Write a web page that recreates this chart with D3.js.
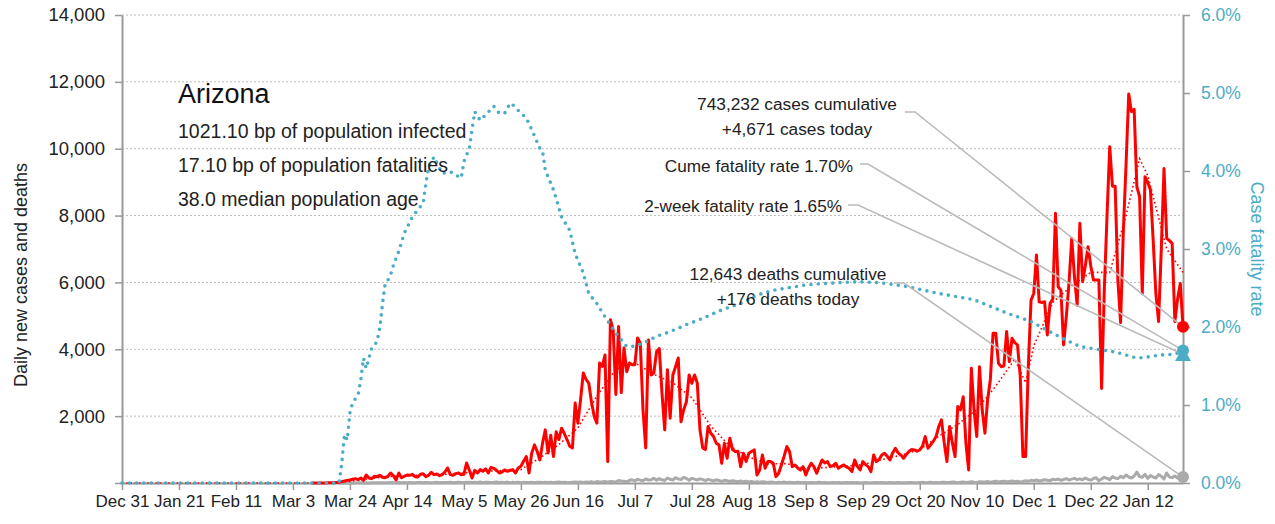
<!DOCTYPE html>
<html>
<head>
<meta charset="utf-8">
<script src="https://cdn.jsdelivr.net/npm/d3@7"></script>
<style>
  body { margin: 0; background: #fff; }
  text { font-family: "Liberation Sans", Arial, sans-serif; }
</style>
</head>
<body>
<svg id="chart" width="1275" height="524"></svg>
<script>
// ---- data ----
const axisStart = "2019-12-31";
const axisEnd = "2021-01-25";

const xTickDates = ["2019-12-31","2020-01-21","2020-02-11","2020-03-03","2020-03-24","2020-04-14",
  "2020-05-05","2020-05-26","2020-06-16","2020-07-07","2020-07-28","2020-08-18","2020-09-08",
  "2020-09-29","2020-10-20","2020-11-10","2020-12-01","2020-12-22","2021-01-12"];
const leftTicks = [0, 2000, 4000, 6000, 8000, 10000, 12000, 14000];
const rightTicks = [0, 0.01, 0.02, 0.03, 0.04, 0.05, 0.06];

// daily new cases, one value per day from casesStart
const casesStart = "2020-03-10";
const dailyCases = [
  1,3,0,3,2,1,6,
  8,9,16,20,40,58,80,
  90,110,130,100,150,80,240,
  150,130,200,190,230,170,160,
  200,300,220,90,300,160,200,
  240,230,260,190,180,260,280,
  190,230,320,250,270,220,250,
  330,450,250,230,280,300,250,
  260,600,380,150,380,300,400,
  350,420,300,470,440,380,300,
  330,390,350,380,400,300,450,
  500,650,790,300,900,1140,950,
  690,1200,1590,900,1430,790,1530,
  1300,1640,1480,1300,1100,1050,2390,
  1790,2500,3290,3100,2990,2430,2000,
  1790,3590,3490,3830,640,4880,4580,
  2650,4680,2700,4040,3330,3590,3540,
  3540,4340,4180,2190,1050,4280,3230,
  3290,3930,4020,2690,1590,3390,1940,
  3230,3480,3740,1830,2190,2430,3230,
  2980,3230,2990,1590,1050,1000,1690,
  1490,1390,1190,1140,590,1190,740,
  1340,1000,940,940,490,890,640,
  890,940,990,240,390,840,440,
  640,640,590,190,290,540,800,
  1090,940,490,540,450,390,490,
  240,450,590,490,290,500,690,
  600,640,490,520,590,440,500,
  540,480,440,340,690,500,390,
  640,550,490,340,840,640,700,
  840,890,800,690,900,1040,900,
  840,740,850,940,1000,990,950,
  990,1100,1390,1040,1140,1250,1390,
  1690,1890,1200,640,1690,1200,790,
  2290,2190,2580,1190,390,3430,2190,
  1390,3480,2190,1490,2500,3090,4480,
  4480,3580,3480,3500,4530,3630,4330,
  4200,4130,3230,790,790,3500,5470,
  5670,6820,5420,5400,5420,4430,5370,
  5500,8070,5870,5770,4130,4980,6000,
  7320,6170,5320,7770,6020,6500,7070,
  6500,6070,6070,6070,2830,5770,8000,
  10060,8880,8880,6070,4800,7500,9500,
  11640,11110,11180,8860,8570,5670,9160,
  9000,8770,7270,5670,4830,7000,9410,
  7320,7250,7170,4830,5500,5970,4671
];

// daily deaths, one value per day from deathsStart
const deathsStart = "2020-03-20";
const dailyDeaths = [
  0,1,0,2,1,3,2,
  5,4,3,7,2,6,5,
  8,4,11,7,5,13,10,
  7,12,9,15,6,14,11,
  9,16,13,8,18,12,10,
  14,20,9,15,12,17,22,
  10,18,24,12,15,20,26,
  14,22,17,28,12,19,25,
  16,21,30,13,24,18,27,
  11,20,15,25,9,22,17,
  14,23,10,19,26,12,20,
  17,24,9,21,30,15,26,
  18,11,25,32,20,27,16,
  30,24,38,19,42,28,35,
  44,22,48,40,30,75,60,
  50,35,80,95,65,110,85,
  70,120,90,100,140,85,130,
  95,75,150,110,90,160,120,
  100,170,135,80,140,115,90,
  125,100,70,110,85,60,95,
  75,50,80,65,45,70,55,
  40,60,35,50,30,45,25,
  40,20,35,30,15,28,22,
  10,25,18,30,12,20,15,
  8,22,14,5,18,10,16,
  6,12,20,9,15,4,11,
  14,7,18,10,5,13,9,
  16,6,12,3,10,14,8,
  5,11,15,7,12,4,10,
  13,6,9,16,8,11,5,
  12,18,7,10,15,20,9,
  14,22,11,17,8,19,25,
  12,16,28,20,10,24,30,
  15,26,35,22,18,40,28,
  33,45,25,38,50,30,42,
  55,35,48,60,40,52,30,
  45,70,55,80,65,90,60,
  75,100,85,70,110,95,120,
  80,105,130,90,115,140,100,
  125,95,150,110,85,135,160,
  70,120,170,140,100,190,150,
  130,200,160,240,180,150,210,
  330,190,170,260,140,220,180,
  150,250,200,120,300,180,160,
  210,150,190,176
];

// 7-day average of cases (dotted red)
const avgDates = ["2019-12-31","2020-03-10","2020-03-17","2020-03-24","2020-03-31","2020-04-07",
  "2020-04-14","2020-04-21","2020-04-28","2020-05-05","2020-05-12","2020-05-19","2020-05-26",
  "2020-06-02","2020-06-09","2020-06-16","2020-06-23","2020-06-30","2020-07-07","2020-07-14",
  "2020-07-21","2020-07-28","2020-08-04","2020-08-11","2020-08-18","2020-08-25","2020-09-01",
  "2020-09-08","2020-09-15","2020-09-22","2020-09-29","2020-10-06","2020-10-13","2020-10-20",
  "2020-10-27","2020-11-03","2020-11-10","2020-11-17","2020-11-24","2020-11-28","2020-12-01",
  "2020-12-08","2020-12-15","2020-12-22","2020-12-29","2021-01-04","2021-01-09","2021-01-12",
  "2021-01-19","2021-01-25"];
const avgCases = [0,0,10,50,130,190,
  220,240,260,300,350,370,400,
  750,1150,1650,2600,3400,3600,3250,
  3000,2550,1700,1100,780,570,580,
  420,460,500,550,700,830,1000,
  1400,1750,2200,2900,3700,3000,4100,
  5400,5900,6300,6300,8000,9700,9200,
  7000,6300];

// case fatality rate, percent (dotted blue, right axis)
const cfrDates = ["2019-12-31","2020-03-20","2020-03-21","2020-03-22","2020-03-23","2020-03-24",
  "2020-03-25","2020-03-27","2020-03-28","2020-03-29","2020-03-30","2020-03-31","2020-04-01",
  "2020-04-03","2020-04-04","2020-04-05","2020-04-06","2020-04-07","2020-04-08","2020-04-09",
  "2020-04-11","2020-04-13","2020-04-16","2020-04-20","2020-04-21","2020-04-22","2020-04-24",
  "2020-04-27","2020-04-30","2020-05-04","2020-05-05","2020-05-07","2020-05-08","2020-05-09",
  "2020-05-11","2020-05-13","2020-05-16","2020-05-18","2020-05-20","2020-05-22","2020-05-23",
  "2020-05-26","2020-05-28","2020-05-30","2020-06-02","2020-06-03","2020-06-04","2020-06-07",
  "2020-06-10","2020-06-13","2020-06-15","2020-06-18","2020-06-20","2020-06-23","2020-06-26",
  "2020-06-30","2020-07-04","2020-07-06","2020-07-10","2020-07-15","2020-07-20","2020-07-26",
  "2020-08-01","2020-08-08","2020-08-15","2020-08-21","2020-08-27","2020-09-08","2020-09-21",
  "2020-09-27","2020-10-05","2020-10-15","2020-10-27","2020-11-09","2020-11-21","2020-11-30",
  "2020-12-08","2020-12-13","2020-12-18","2020-12-25","2020-12-31","2021-01-08","2021-01-13",
  "2021-01-16","2021-01-22","2021-01-25"];
const cfrPct = [0,0,0.26,0.62,0.55,0.9,
  1.03,1.13,1.32,1.6,1.47,1.6,1.73,
  1.81,1.99,2.3,2.56,2.6,2.67,2.79,
  2.97,3.2,3.41,3.59,3.84,4.05,4.18,
  3.97,3.99,3.91,4.12,4.29,4.53,4.76,
  4.65,4.72,4.83,4.74,4.74,4.87,4.85,
  4.74,4.68,4.53,4.29,4.25,4.01,3.76,
  3.41,3.24,2.94,2.69,2.43,2.30,2.13,
  1.92,1.75,1.75,1.79,1.88,1.94,2.03,
  2.11,2.22,2.30,2.41,2.47,2.54,2.57,
  2.58,2.57,2.52,2.43,2.35,2.18,2.07,
  1.92,1.83,1.75,1.71,1.68,1.60,1.62,
  1.64,1.65,1.70];

const stateName = "Arizona";
const infoLines = ["1021.10 bp of population infected", "17.10 bp of population fatalities", "38.0 median population age"];
const casesNote = ["743,232 cases cumulative", "+4,671 cases today"];
const deathsNote = ["12,643 deaths cumulative", "+176 deaths today"];
const cumeNote = "Cume fatality rate 1.70%";
const twoWeekNote = "2-week fatality rate 1.65%";
const todayCases = 4671, todayDeaths = 176, cumeRate = 0.017, twoWeekRate = 0.0165;

// ---- chart ----
const svg = d3.select("#chart");
const plotLeft = 122, plotRight = 1183, plotTop = 15, plotBottom = 483;
const parse = d3.timeParse("%Y-%m-%d");
const red = "#ff0000", blue = "#4bacc6", gray = "#aaaaaa", axisGray = "#999999";

const x = d3.scaleTime().domain([parse(axisStart), parse(axisEnd)]).range([plotLeft, plotRight]);
const yL = d3.scaleLinear().domain([0, 14000]).range([plotBottom, plotTop]);
const yR = d3.scaleLinear().domain([0, 0.06]).range([plotBottom, plotTop]);

const cases = dailyCases.map((v, i) => ({ date: d3.timeDay.offset(parse(casesStart), i), v }));
const deaths = dailyDeaths.map((v, i) => ({ date: d3.timeDay.offset(parse(deathsStart), i), v }));
const avg = avgDates.map((d, i) => ({ date: parse(d), v: avgCases[i] }));
const cfr = cfrDates.map((d, i) => ({ date: parse(d), v: cfrPct[i] / 100 }));

// gridlines
svg.append("g").selectAll("line")
  .data(leftTicks.filter(d => d > 0))
  .join("line")
  .attr("x1", plotLeft).attr("x2", plotRight)
  .attr("y1", d => yL(d)).attr("y2", d => yL(d))
  .attr("stroke", "#bbbbbb").attr("stroke-width", 1).attr("stroke-dasharray", "2,2");

// axes
const styleAxis = g => {
  g.select(".domain").attr("stroke", axisGray).attr("stroke-width", 2);
  g.selectAll(".tick line").attr("stroke", axisGray).attr("stroke-width", 1.5);
};

svg.append("g")
  .attr("transform", `translate(${plotLeft},0)`)
  .call(d3.axisLeft(yL).tickValues(leftTicks).tickFormat(d => d ? d3.format(",")(d) : "")
    .tickSize(7).tickSizeOuter(0).tickPadding(10))
  .call(styleAxis)
  .call(g => g.selectAll("text").attr("font-size", 18.5).attr("fill", "#222"));

svg.append("g")
  .attr("transform", `translate(${plotRight},0)`)
  .call(d3.axisRight(yR).tickValues(rightTicks).tickFormat(d3.format(".1%"))
    .tickSize(7).tickSizeOuter(0).tickPadding(11))
  .call(styleAxis)
  .call(g => g.selectAll("text").attr("font-size", 17.5).attr("fill", blue));

svg.append("g")
  .attr("transform", `translate(0,${plotBottom})`)
  .call(d3.axisBottom(x).tickValues(xTickDates.map(parse)).tickFormat(d3.timeFormat("%b %-d"))
    .tickSize(7).tickSizeOuter(0).tickPadding(5))
  .call(styleAxis)
  .call(g => g.selectAll("text").attr("font-size", 17).attr("fill", "#222"));

// axis titles
svg.append("text")
  .attr("transform", `translate(27,${(plotTop + plotBottom) / 2 + 26}) rotate(-90)`)
  .attr("text-anchor", "middle").attr("font-size", 18).attr("fill", "#222")
  .text("Daily new cases and deaths");

svg.append("text")
  .attr("transform", `translate(1251,${(plotTop + plotBottom) / 2}) rotate(90)`)
  .attr("text-anchor", "middle").attr("font-size", 18).attr("fill", blue)
  .text("Case fatality rate");

// series
const lineL = d3.line().x(d => x(d.date)).y(d => yL(d.v));
const lineR = d3.line().x(d => x(d.date)).y(d => yR(d.v));

svg.append("path").datum(deaths).attr("d", lineL)
  .attr("fill", "none").attr("stroke", gray).attr("stroke-width", 3).attr("stroke-linejoin", "round");

svg.append("path").datum(cases).attr("d", lineL)
  .attr("fill", "none").attr("stroke", red).attr("stroke-width", 3).attr("stroke-linejoin", "round");

svg.append("path").datum(avg).attr("d", lineL)
  .attr("fill", "none").attr("stroke", red).attr("stroke-width", 1.6).attr("stroke-dasharray", "1.6,2.6");

svg.append("path").datum(cfr).attr("d", lineR)
  .attr("fill", "none").attr("stroke", blue).attr("stroke-width", 3.6)
  .attr("stroke-linecap", "round").attr("stroke-dasharray", "0,7.3");

// connectors from notes to the end markers
const endX = x(parse(axisEnd));
const connectors = [
  [[905, 112], [915, 112], [endX, yL(todayCases)]],
  [[860, 164], [868, 164], [endX, yR(cumeRate)]],
  [[848, 205], [858, 205], [endX, yR(twoWeekRate)]],
  [[894, 283], [904, 283], [endX, yL(todayDeaths)]]
];
svg.append("g").selectAll("path").data(connectors).join("path")
  .attr("d", d3.line())
  .attr("fill", "none").attr("stroke", "#bbbbbb").attr("stroke-width", 1.6);

// end markers
svg.append("circle").attr("cx", endX).attr("cy", yL(todayCases)).attr("r", 6).attr("fill", red);
svg.append("circle").attr("cx", endX).attr("cy", yL(todayDeaths)).attr("r", 6).attr("fill", gray);
svg.append("path")
  .attr("transform", `translate(${endX},${yR(twoWeekRate) + 2})`)
  .attr("d", d3.symbol(d3.symbolTriangle, 110)())
  .attr("fill", blue);
svg.append("circle").attr("cx", endX).attr("cy", yR(cumeRate)).attr("r", 6).attr("fill", blue);

// state block
svg.append("text").attr("x", 178).attr("y", 103)
  .attr("font-size", 27).attr("fill", "#111").text(stateName);
svg.append("g").selectAll("text").data(infoLines).join("text")
  .attr("x", 178).attr("y", (d, i) => 138 + i * 34)
  .attr("font-size", 19.5).attr("fill", "#222").text(d => d);

// notes
svg.append("g").selectAll("text").data(casesNote).join("text")
  .attr("x", 797).attr("y", (d, i) => 110 + i * 25)
  .attr("text-anchor", "middle").attr("font-size", 17.3).attr("fill", "#222").text(d => d);
svg.append("g").selectAll("text").data(deathsNote).join("text")
  .attr("x", 788).attr("y", (d, i) => 280 + i * 25)
  .attr("text-anchor", "middle").attr("font-size", 17.3).attr("fill", "#222").text(d => d);
svg.append("text").attr("x", 853).attr("y", 172)
  .attr("text-anchor", "end").attr("font-size", 17.2).attr("fill", "#222").text(cumeNote);
svg.append("text").attr("x", 842).attr("y", 212)
  .attr("text-anchor", "end").attr("font-size", 17.2).attr("fill", "#222").text(twoWeekNote);
</script>
</body>
</html>
